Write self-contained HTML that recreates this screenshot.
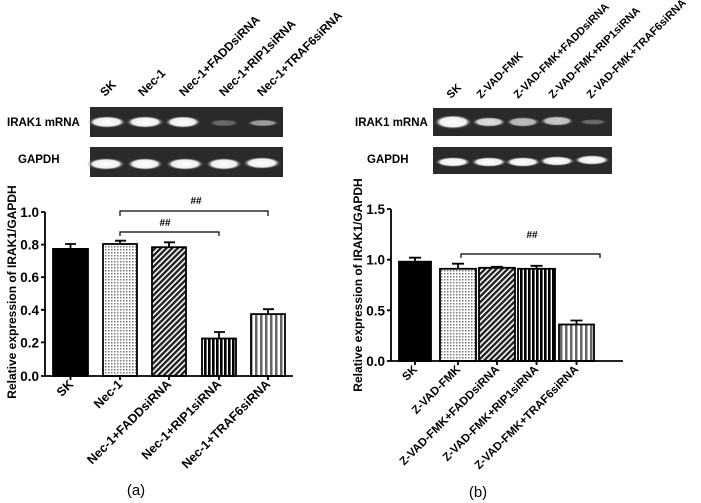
<!DOCTYPE html>
<html><head><style>body{margin:0;background:#fff}svg{display:block}text{font-family:"Liberation Sans",Arial,sans-serif;font-weight:bold;fill:#000}</style></head><body>
<svg width="701" height="503" viewBox="0 0 701 503" xmlns="http://www.w3.org/2000/svg">
<defs>
<pattern id="dots" width="3" height="3" patternUnits="userSpaceOnUse"><rect width="3" height="3" fill="#fff"/><rect width="1.5" height="1.5" fill="#777"/></pattern>
<pattern id="diag" width="4" height="4" patternUnits="userSpaceOnUse" patternTransform="rotate(45)"><rect width="4" height="4" fill="#fff"/><rect width="2.4" height="4" fill="#222"/></pattern>
<pattern id="vb" width="4" height="4" patternUnits="userSpaceOnUse"><rect width="4" height="4" fill="#fff"/><rect width="2.6" height="4" fill="#000"/></pattern>
<pattern id="vg" width="5" height="4" patternUnits="userSpaceOnUse"><rect width="5" height="4" fill="#fff"/><rect width="2.5" height="4" fill="#666"/></pattern>
<radialGradient id="band"><stop offset="0" stop-color="#fff"/><stop offset="0.7" stop-color="#eee"/><stop offset="1" stop-color="#444" stop-opacity="0"/></radialGradient>
</defs>
<!-- LEFT GELS -->
<rect x="90" y="107" width="193" height="30" fill="#2a2a2a"/>
<rect x="90" y="147" width="193" height="30" fill="#2a2a2a"/>
<g fill="url(#band)">
<ellipse cx="107" cy="122" rx="19" ry="6"/><ellipse cx="145" cy="122" rx="19" ry="6"/><ellipse cx="183" cy="122" rx="18" ry="6"/>
<ellipse cx="224" cy="123" rx="15" ry="3.5" opacity="0.3"/><ellipse cx="263" cy="123" rx="16" ry="3.5" opacity="0.55"/>
<ellipse cx="106" cy="164" rx="19" ry="6"/><ellipse cx="145" cy="164" rx="18" ry="6"/><ellipse cx="185" cy="164" rx="19" ry="6"/><ellipse cx="224" cy="164" rx="18" ry="6"/><ellipse cx="262" cy="163" rx="19" ry="6"/>
</g>
<text x="7" y="126" font-size="11.5">IRAK1 mRNA</text>
<text x="18" y="163" font-size="11.5">GAPDH</text>
<g font-size="12">
<text transform="translate(105,97) rotate(-45)">SK</text>
<text transform="translate(143,97) rotate(-45)">Nec-1</text>
<text transform="translate(184,97) rotate(-45)">Nec-1+FADDsiRNA</text>
<text transform="translate(224,97) rotate(-45)">Nec-1+RIP1siRNA</text>
<text transform="translate(262,97) rotate(-45)">Nec-1+TRAF6siRNA</text>
</g>
<!-- RIGHT GELS -->
<rect x="433" y="108" width="179" height="28" fill="#2a2a2a"/>
<rect x="433" y="147" width="179" height="27" fill="#2a2a2a"/>
<g fill="url(#band)">
<ellipse cx="453" cy="122" rx="19" ry="7"/><ellipse cx="489" cy="122" rx="17" ry="5" opacity="0.85"/><ellipse cx="523" cy="122" rx="17" ry="5" opacity="0.7"/><ellipse cx="557" cy="121" rx="17" ry="5" opacity="0.75"/><ellipse cx="593" cy="122" rx="14" ry="3" opacity="0.3"/>
<ellipse cx="453" cy="162" rx="18" ry="5"/><ellipse cx="489" cy="162" rx="18" ry="5"/><ellipse cx="523" cy="162" rx="18" ry="5"/><ellipse cx="557" cy="161" rx="18" ry="5"/><ellipse cx="592" cy="160" rx="18" ry="5"/>
</g>
<text x="355" y="126" font-size="11.5">IRAK1 mRNA</text>
<text x="367" y="163" font-size="11.5">GAPDH</text>
<g font-size="11">
<text transform="translate(451,99) rotate(-45)">SK</text>
<text transform="translate(481,99) rotate(-45)">Z-VAD-FMK</text>
<text transform="translate(518,99) rotate(-45)">Z-VAD-FMK+FADDsiRNA</text>
<text transform="translate(553,99) rotate(-45)">Z-VAD-FMK+RIP1siRNA</text>
<text transform="translate(591,99) rotate(-45)">Z-VAD-FMK+TRAF6siRNA</text>
</g>
<!-- LEFT CHART -->
<g stroke="#000" stroke-width="1.8">
<rect x="53" y="248.9" width="35" height="127.1" fill="#000"/>
<rect x="103" y="244" width="34" height="132" fill="url(#dots)"/>
<rect x="152" y="247.2" width="34" height="128.8" fill="url(#diag)"/>
<rect x="202" y="338.5" width="34" height="37.5" fill="url(#vb)"/>
<rect x="251" y="314.1" width="34" height="61.9" fill="url(#vg)"/>
<path d="M70.5 248.9V244M65 244H76 M120 244V240.7M115 240.7H126 M169 247.2V242.3M164 242.3H175 M219 338.5V332M214 332H225 M268 314.1V309.2M263 309.2H274" fill="none"/>
<path d="M45 212V376H293 M41 212H45M41 244.6H45M41 277.2H45M41 309.8H45M41 342.4H45M41 376H45 M70.5 376V380M120 376V380M169 376V380M219 376V380M268 376V380" fill="none"/>
<path d="M120 216V211H268V216 M120 236V232H219V236" fill="none" stroke-width="1.2"/>
</g>
<g font-size="13.5" text-anchor="end">
<text x="39" y="217">1.0</text><text x="39" y="249.6">0.8</text><text x="39" y="282.2">0.6</text><text x="39" y="314.8">0.4</text><text x="39" y="347.4">0.2</text><text x="39" y="381">0.0</text>
</g>
<text x="196" y="204" font-size="10" text-anchor="middle">##</text>
<text x="165" y="226" font-size="10" text-anchor="middle">##</text>
<text transform="translate(16,292) rotate(-90)" font-size="12" text-anchor="middle">Relative expression of IRAK1/GAPDH</text>
<g font-size="12.5" text-anchor="end">
<text transform="translate(74,385) rotate(-45)">SK</text>
<text transform="translate(123,385) rotate(-45)">Nec-1</text>
<text transform="translate(172,385) rotate(-45)">Nec-1+FADDsiRNA</text>
<text transform="translate(222,385) rotate(-45)">Nec-1+RIP1siRNA</text>
<text transform="translate(271,385) rotate(-45)">Nec-1+TRAF6siRNA</text>
</g>
<text x="136" y="495" font-size="15" style="font-weight:normal" text-anchor="middle">(a)</text>
<!-- RIGHT CHART -->
<g stroke="#000" stroke-width="1.8">
<rect x="399" y="261.7" width="32" height="99.3" fill="#000"/>
<rect x="440" y="268.8" width="36" height="92.2" fill="url(#dots)"/>
<rect x="479" y="267.8" width="36" height="93.2" fill="url(#diag)"/>
<rect x="518" y="268.8" width="37" height="92.2" fill="url(#vb)"/>
<rect x="559" y="324.5" width="35" height="36.5" fill="url(#vg)"/>
<path d="M415 261.7V257.7M409 257.7H421 M458 268.8V263.7M452 263.7H464 M497 267.8V266.8M491 266.8H503 M536.5 268.8V265.8M530.5 265.8H542.5 M576.5 324.5V320.5M570.5 320.5H582.5" fill="none"/>
<path d="M391 209V361H623 M387 209H391M387 259.7H391M387 310.3H391M387 361H391 M415 361V365M458 361V365M497 361V365M536.5 361V365M576.5 361V365" fill="none"/>
<path d="M461 258V254H600V258" fill="none" stroke-width="1.2"/>
</g>
<g font-size="13.5" text-anchor="end">
<text x="385" y="214">1.5</text><text x="385" y="264.7">1.0</text><text x="385" y="315.3">0.5</text><text x="385" y="366">0.0</text>
</g>
<text x="532" y="238" font-size="10" text-anchor="middle">##</text>
<text transform="translate(362,285) rotate(-90)" font-size="12" text-anchor="middle">Relative expression of IRAK1/GAPDH</text>
<g font-size="11.5" text-anchor="end">
<text transform="translate(418,370) rotate(-45)">SK</text>
<text transform="translate(461,370) rotate(-45)">Z-VAD-FMK</text>
<text transform="translate(500,370) rotate(-45)">Z-VAD-FMK+FADDsiRNA</text>
<text transform="translate(539,370) rotate(-45)">Z-VAD-FMK+RIP1siRNA</text>
<text transform="translate(579,370) rotate(-45)">Z-VAD-FMK+TRAF6siRNA</text>
</g>
<text x="478" y="497" font-size="15" style="font-weight:normal" text-anchor="middle">(b)</text>
</svg>
</body></html>
